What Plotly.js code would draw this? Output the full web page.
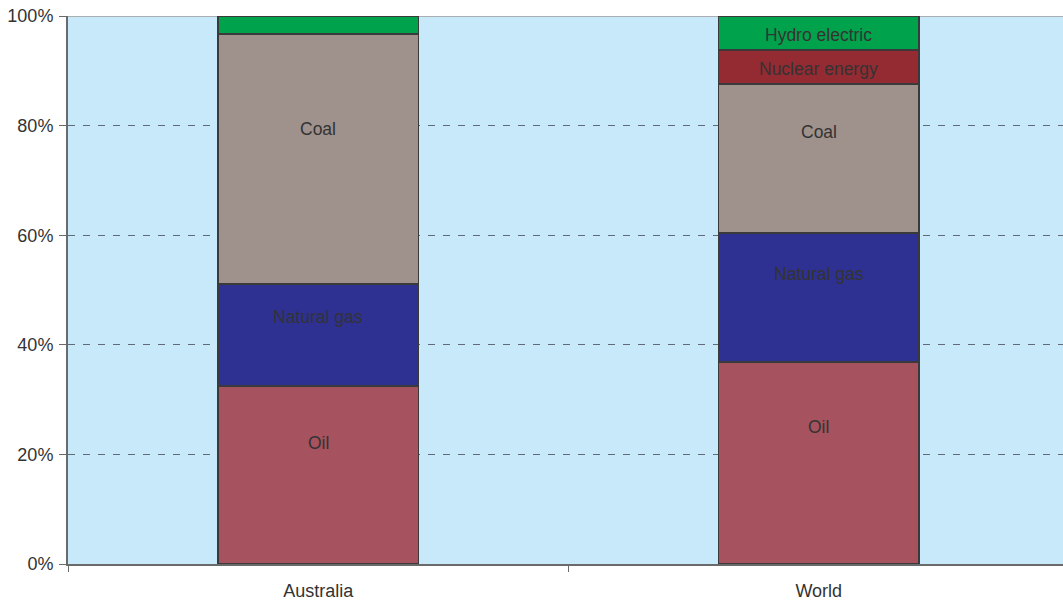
<!DOCTYPE html>
<html>
<head>
<meta charset="utf-8">
<script src="https://cdn.plot.ly/plotly-3.0.1.min.js"></script>
<style>
  html, body { margin: 0; padding: 0; background: #ffffff; }
  #chart { width: 1063px; height: 601px; }
</style>
</head>
<body>
<div id="chart"></div>
<script>
// Share of primary energy consumption by fuel (%)
const regions = ['Australia', 'World'];
const fuels = ['Oil', 'Natural gas', 'Coal', 'Nuclear energy', 'Hydro electric'];
const oil = [32.5, 36.9];
const naturalGas = [18.6, 23.5];
const coal = [45.6, 27.2];
const nuclear = [0, 6.2];
const hydro = [3.3, 6.2];
const yTicks = [0, 20, 40, 60, 80, 100];
const yTickLabels = ['0%', '20%', '40%', '60%', '80%', '100%'];

const series = [oil, naturalGas, coal, nuclear, hydro];
const colors = ['#A6525F', '#2E3191', '#9F928D', '#952B32', '#00A24B'];

const traces = fuels.map((name, i) => ({
  type: 'bar',
  name: name,
  x: regions,
  y: series[i],
  width: 0.4,
  marker: { color: colors[i], line: { color: '#3a3a3a', width: 1.5 } },
  hoverinfo: 'name+y'
}));

// Segment labels, placed inside each stacked block
const annotations = [];
regions.forEach((region, r) => {
  let base = 0;
  series.forEach((vals, i) => {
    const v = vals[r];
    if (v >= 5) {
      const frac = v > 40 ? 0.62 : (v > 10 ? 0.68 : 0.45);
      annotations.push({
        x: region, y: base + v * frac, xref: 'x', yref: 'y',
        text: fuels[i], showarrow: false,
        font: { family: 'Liberation Sans, Arial, sans-serif', size: 17.5, color: '#333333' }
      });
    }
    base += v;
  });
});

const layout = {
  width: 1063,
  height: 601,
  margin: { l: 68, r: 0, t: 16, b: 37 },
  paper_bgcolor: '#ffffff',
  plot_bgcolor: '#C7E9F9',
  barmode: 'stack',
  bargap: 0.6,
  showlegend: false,
  font: { family: 'Liberation Sans, Arial, sans-serif', size: 17.5, color: '#333333' },
  xaxis: {
    type: 'category',
    range: [-0.5, 1.488],
    showline: true, linecolor: '#6a6a6a', linewidth: 2,
    ticks: 'outside', tickson: 'boundaries', ticklen: 6, tickcolor: '#6a6a6a', tickwidth: 1,
    ticklabelstandoff: 9,
    showgrid: false, zeroline: false,
    tickfont: { size: 18, color: '#333333' }
  },
  yaxis: {
    range: [0, 100],
    tickvals: yTicks, ticktext: yTickLabels,
    showline: true, linecolor: '#6a6a6a', linewidth: 2,
    ticks: 'outside', ticklen: 7, tickcolor: '#6a6a6a', tickwidth: 1,
    ticklabelstandoff: 2,
    showgrid: true, gridcolor: '#5f6b78', gridwidth: 1, griddash: '7px,8px',
    zeroline: false,
    tickfont: { size: 18, color: '#333333' }
  },
  shapes: [{
    type: 'line', xref: 'paper', yref: 'y', x0: 0, x1: 1, y0: 100, y1: 100,
    line: { color: '#a09a98', width: 1.5 }, layer: 'below'
  }],
  annotations: annotations
};

Plotly.newPlot('chart', traces, layout, { displayModeBar: false, staticPlot: true });
</script>
</body>
</html>
